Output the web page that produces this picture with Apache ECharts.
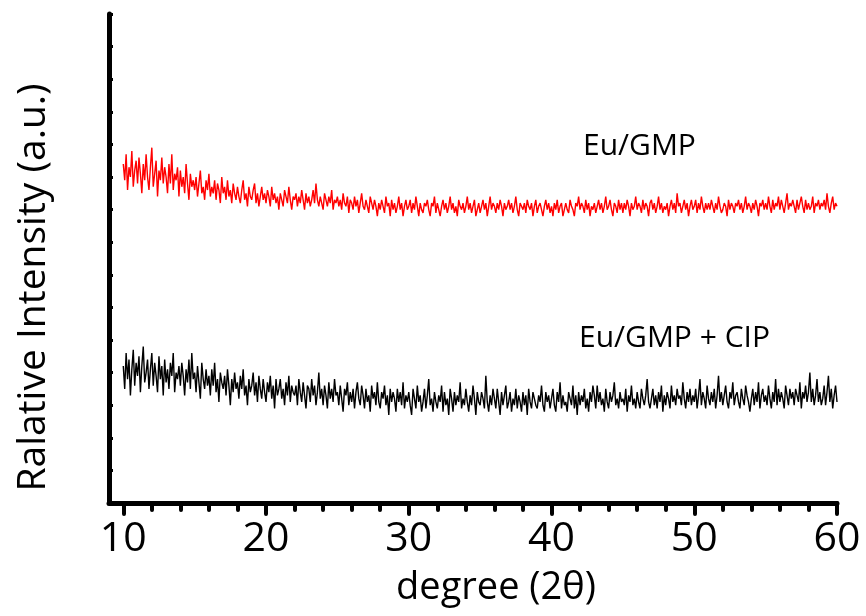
<!DOCTYPE html>
<html>
<head>
<meta charset="utf-8">
<script src="https://cdn.jsdelivr.net/npm/echarts@6/dist/echarts.min.js"></script>
<style>
html,body{margin:0;padding:0;background:#fff;}
#chart{width:866px;height:616px;}
</style>
</head>
<body>
<div id="chart"></div>
<script>
// 2-theta grid: start, step (degrees)
const X_START = 10.0;
const X_STEP = 0.1;

// Eu/GMP (red) relative intensity, one row per degree, 10.0 .. 60.0
const euGmp = [
104,99,107,96,103,100,108,97,102,105,
98,106,101,95,104,99,107,100,96,103,
109,97,101,105,94,102,99,106,98,103,
100,95,104,98,107,96,101,99,103,94,
102,97,100,95,104,98,93,101,97,99,
96,100,94,98,102,95,97,93,99,96,
101,94,97,95,99,93,98,96,92,100,
95,97,93,99,94,96,92,98,95,93,
97,94,92,96,99,93,95,91,97,94,
93,96,98,92,95,91,94,97,93,95,
92,96,94,91,97,93,95,92,94,90,
95,93,91,96,94,92,97,93,90,94,
93,95,91,94,92,96,93,90,95,92,
94,91,93,96,92,98,93,91,94,92,
90,95,93,91,94,92,96,90,93,92,
94,91,93,90,95,92,91,94,89,93,
92,90,94,91,93,89,92,95,91,90,
93,91,89,94,92,90,93,91,88,92,
90,93,91,89,94,91,92,88,93,90,
92,89,91,94,90,92,88,91,93,90,
91,93,89,92,90,94,91,88,92,90,
89,92,91,93,90,88,92,91,94,89,
92,90,88,91,93,90,92,89,91,94,
90,92,89,91,88,93,91,90,92,89,
91,94,90,92,89,91,93,88,90,92,
89,91,93,90,92,88,91,94,90,92,
91,89,92,90,93,91,88,92,90,91,
93,90,92,89,91,94,90,88,92,91,
90,92,89,93,91,90,92,88,91,93,
89,91,92,90,88,91,93,90,92,89,
91,88,92,90,93,89,91,92,88,90,
92,90,89,93,91,90,88,92,91,94,
90,92,91,89,93,90,92,88,91,90,
92,89,91,93,90,92,89,91,94,90,
91,93,90,88,92,91,89,93,90,92,
89,92,90,93,91,88,92,90,91,94,
90,92,91,89,93,90,92,91,88,92,
93,90,92,89,91,94,90,92,89,91,
90,92,88,91,93,90,92,89,95,91,
92,89,91,93,90,92,88,91,93,90,
91,93,89,92,90,94,91,89,92,90,
92,90,93,91,89,92,90,94,91,89,
90,92,91,88,93,90,92,91,89,92,
91,93,90,92,89,91,94,90,92,91,
89,92,90,93,91,88,92,91,93,90,
92,90,94,91,89,93,90,92,91,94,
90,93,91,89,92,95,90,92,91,93,
91,89,93,90,92,94,91,89,93,90,
92,90,91,94,89,92,91,93,90,92,
91,93,90,95,91,89,92,94,90,92,
91
];

// Eu/GMP + CIP (black) relative intensity, 10.0 .. 60.0
const euGmpCip = [
42,35,46,38,44,33,41,47,36,43,
39,45,34,42,48,37,40,44,35,41,
46,36,43,39,34,45,38,42,33,44,
37,41,35,43,39,46,34,40,38,42,
36,43,39,33,41,37,44,35,46,38,
40,34,42,37,32,43,38,35,41,36,
39,33,41,36,43,34,38,31,40,37,
35,39,33,41,36,30,38,34,40,35,
37,32,39,35,41,33,36,30,38,34,
36,40,33,37,31,39,35,32,38,34,
31,37,34,39,32,36,29,38,33,35,
38,32,35,30,37,33,39,31,36,34,
33,36,30,38,34,31,37,33,29,36,
35,31,38,33,36,30,34,40,32,35,
30,36,33,29,37,32,35,31,38,33,
34,30,36,32,28,35,33,37,30,34,
31,35,29,34,37,32,30,36,33,29,
35,31,33,28,36,32,34,30,37,31,
29,34,32,36,30,33,27,35,31,34,
32,28,35,31,34,30,37,29,33,31,
34,30,27,35,32,29,36,31,33,28,
31,35,29,33,38,30,32,28,34,31,
29,33,31,36,28,34,30,32,27,35,
32,28,34,30,33,31,37,29,32,30,
35,31,28,33,30,36,32,27,34,31,
30,34,32,29,39,31,28,33,30,35,
32,29,35,31,27,34,30,33,36,29,
31,34,28,32,30,35,29,33,31,28,
34,30,33,27,35,31,29,34,32,30,
29,33,31,36,30,28,34,31,33,29,
32,35,30,28,34,31,37,29,33,30,
31,28,34,32,30,36,29,33,27,34,
30,33,31,35,29,32,28,34,31,36,
33,29,36,31,34,30,32,28,35,31,
29,34,31,33,37,30,32,29,34,31,
32,30,35,28,33,31,36,30,32,29,
34,31,29,35,32,30,33,38,31,29,
32,35,30,33,29,34,31,36,28,33,
30,34,32,29,36,31,33,30,35,32,
33,30,37,32,29,34,31,35,30,33,
31,35,29,33,38,30,34,32,29,36,
32,30,34,31,35,29,33,39,31,34,
30,33,36,31,29,34,32,37,30,33,
34,31,29,35,32,30,36,33,31,28,
32,35,30,34,31,37,29,33,35,31,
33,30,36,32,29,34,31,38,30,35,
31,34,32,29,36,33,30,35,32,34,
30,35,33,31,37,29,34,32,36,31,
34,40,31,35,30,33,38,31,34,30,
32,36,30,34,39,31,35,29,33,36,
31
];

const majorTicks = [10, 20, 30, 40, 50, 60];
const minorTicks = [12, 14, 16, 18, 22, 24, 26, 28, 32, 34, 36, 38, 42, 44, 46, 48, 52, 54, 56, 58];
const seriesNames = ['Eu/GMP', 'Eu/GMP + CIP'];
const xTitle = 'degree (2\u03B8)';
const yTitle = 'Ralative Intensity (a.u.)';

function pairs(vals) {
  return vals.map((v, i) => [+(X_START + i * X_STEP).toFixed(2), v]);
}

const FONT = 'Open Sans';
const chart = echarts.init(document.getElementById('chart'), null, {renderer: 'canvas'});
chart.setOption({
  animation: false,
  backgroundColor: '#fff',
  grid: {left: 109, right: 29, top: 14, bottom: 113, containLabel: false, outerBoundsMode: 'none'},
  xAxis: [{
    type: 'value', min: 9, max: 60, position: 'bottom',
    name: xTitle, nameLocation: 'middle', nameGap: 66,
    nameTextStyle: {fontFamily: FONT, fontSize: 38, color: '#000', padding: [0, 0, 0, 46]},
    axisLine: {show: true, onZero: false, lineStyle: {color: '#000', width: 5, cap: 'round'}},
    axisTick: {show: true, customValues: majorTicks, length: 11, lineStyle: {color: '#000', width: 4, cap: 'round'}},
    axisLabel: {show: true, customValues: majorTicks, margin: 16, fontFamily: FONT, fontSize: 41, color: '#000'},
    splitLine: {show: false}
  }, {
    type: 'value', min: 9, max: 60, position: 'bottom', offset: 0,
    axisLine: {show: false, onZero: false},
    axisTick: {show: true, customValues: minorTicks, length: 7, lineStyle: {color: '#000', width: 4, cap: 'round'}},
    axisLabel: {show: false},
    splitLine: {show: false}
  }],
  yAxis: {
    type: 'value', min: 0, max: 150, interval: 10,
    name: yTitle, nameLocation: 'middle', nameGap: 56,
    nameTextStyle: {fontFamily: FONT, fontSize: 39, color: '#000', padding: [0, 58, 0, 0]},
    axisLine: {show: true, onZero: false, lineStyle: {color: '#000', width: 5, cap: 'round'}},
    axisTick: {show: true, inside: true, length: 4, lineStyle: {color: '#000', width: 3}},
    axisLabel: {show: false},
    splitLine: {show: false}
  },
  series: [{
    name: seriesNames[0], type: 'line', xAxisIndex: 0, showSymbol: false, symbol: 'none',
    lineStyle: {color: '#ff0000', width: 1.4}, data: pairs(euGmp), z: 3
  }, {
    name: seriesNames[1], type: 'line', xAxisIndex: 0, showSymbol: false, symbol: 'none',
    lineStyle: {color: '#000000', width: 1.4}, data: pairs(euGmpCip), z: 3
  }],
  graphic: [{
    type: 'text', left: 583, top: 131,
    style: {text: seriesNames[0], fontFamily: FONT, fontSize: 30, fill: '#000'}
  }, {
    type: 'text', left: 579, top: 323,
    style: {text: seriesNames[1], fontFamily: FONT, fontSize: 30, fill: '#000'}
  }]
});
</script>
</body>
</html>
